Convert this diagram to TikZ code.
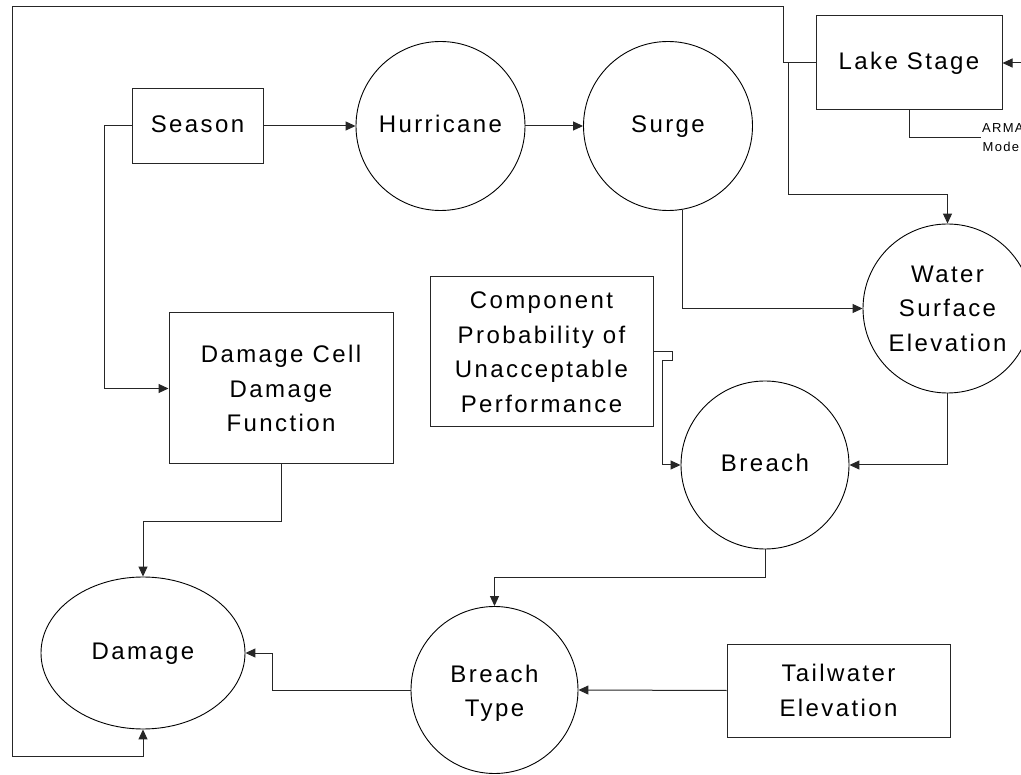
\documentclass[tikz,border=0pt]{standalone}
\usepackage{fontspec}
\setmainfont{Liberation Sans}[LetterSpace=10]
\usetikzlibrary{arrows.meta,shapes.geometric}
\tikzset{
  lbl/.style={font=\fontsize{24}{34.5}\selectfont, align=center, inner sep=0pt},
  one/.style={execute at begin node=\strut, execute at end node=\strut},
  boxnode/.style={lbl, draw=black!85, line width=1pt, rectangle},
  circnode/.style={lbl, draw=black, line width=0.9pt, circle, minimum size=169pt},
  ellnode/.style={lbl, draw=black, line width=0.9pt, ellipse, minimum width=204pt, minimum height=152pt},
  conn/.style={draw=black!85, line width=1pt},
  arr/.style={conn, -{Triangle[length=10pt,width=9pt]}},
  small/.style={font=\fontsize{13}{19}\selectfont, align=center, inner sep=1pt}
}
\begin{document}
\begin{tikzpicture}[x=1pt,y=-1pt]
\clip (0,0) rectangle (1021,775);
\fill[white] (0,0) rectangle (1021,775);
% nodes
\node[boxnode, one, minimum width=131pt, minimum height=75pt] (season) at (197.5,126) {Season};
\node[circnode, one] (hurr) at (440.5,126) {Hurricane};
\node[circnode, one] (surge) at (668,126) {Surge};
\node[boxnode, one, minimum width=186pt, minimum height=94pt] (lake) at (909,63) {Lake Stage};
\node[small, anchor=west] (arma) at (981,138) {ARMA\\Model};
\node[circnode] (wse) at (947.5,308.5) {Water\\Surface\\Elevation};
\node[boxnode, minimum width=223pt, minimum height=150pt] (comp) at (541.5,352) {Component\\Probability of\\Unacceptable\\Performance};
\node[boxnode, minimum width=224pt, minimum height=151pt] (dcell) at (281,388.5) {Damage Cell\\Damage\\Function};
\node[circnode, one, minimum size=168pt] (breach) at (765,465) {Breach};
\node[ellnode, one] (damage) at (143,653) {Damage};
\node[circnode, minimum size=167pt] (btype) at (494.5,690) {\strut Breach\\Type};
\node[boxnode, minimum width=223pt, minimum height=93pt] (tail) at (838.5,690.5) {Tailwater\\Elevation};
% coordinates
\coordinate (tr) at (783,7);
\coordinate (tl) at (12,7);
\coordinate (bl) at (12,756);
\coordinate (j1) at (788,63);
\coordinate (j2) at (947.5,195);
\coordinate (k) at (272,653);
\coordinate (ext) at (1021,63);
% connectors
\draw[arr] (season.east) -- (hurr.west);
\draw[arr] (hurr.east) -- (surge.west);
\draw[arr] (season.west) -- ++(-27,0) |- (dcell.west);
\draw[arr] (lake.west) -| (tr) -- (tl) -- (bl) -| (damage.south);
\draw[arr] (j1) |- (j2) -- (wse.north);
\draw[arr] (ext) -- (lake.east);
\draw[conn] (lake.south) |- (arma.west);
\draw[arr] (surge.-80) |- (wse.west);
\draw[arr] (wse.south) |- (breach.east);
\draw[arr] (comp.east) -- ++(19,0) -- ++(0,9) -- ++(-10,0) |- (breach.west);
\draw[arr] (dcell.south) -- ++(0,57) -| (damage.north);
\draw[arr] (breach.south) -- ++(0,28) -| (btype.north);
\draw[arr] (btype.west) -| (k) -- (damage.east);
\draw[arr] (tail.west) -- (btype.east);
\end{tikzpicture}
\end{document}
